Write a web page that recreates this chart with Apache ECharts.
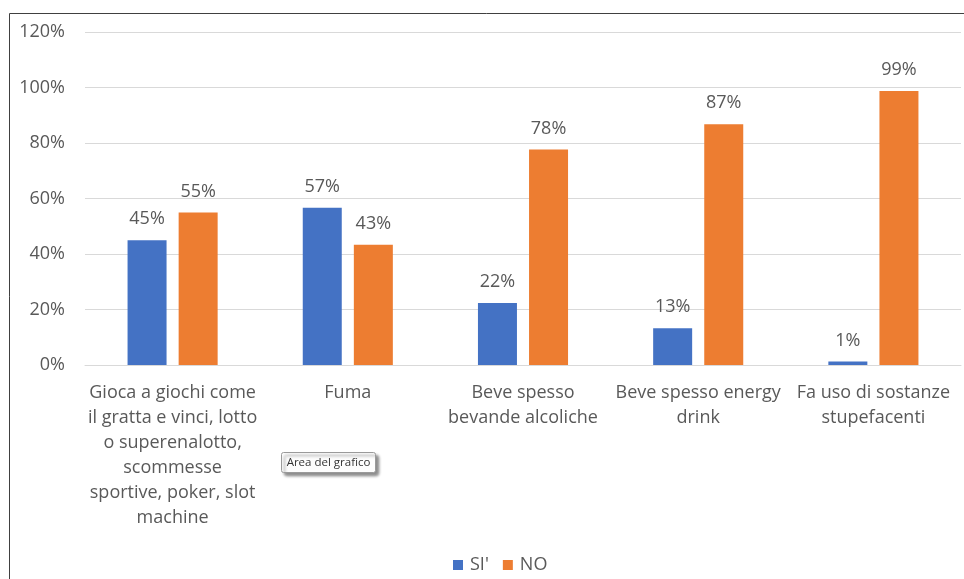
<!DOCTYPE html>
<html><head><meta charset="utf-8">
<script src="https://cdn.jsdelivr.net/npm/echarts@6/dist/echarts.min.js"></script>
<style>html,body{margin:0;padding:0;background:#fff}#c{width:964px;height:579px}</style>
</head><body><div id="c"></div>
<script>
const categories = [
  "Gioca a giochi come\nil gratta e vinci, lotto\no superenalotto,\nscommesse\nsportive, poker, slot\nmachine",
  "Fuma",
  "Beve spesso\nbevande alcoliche",
  "Beve spesso energy\ndrink",
  "Fa uso di sostanze\nstupefacenti"
];
const siValues = [45, 56.7, 22.3, 13.2, 1.3];
const noValues = [55, 43.3, 77.7, 86.8, 98.7];
const yTicks = [0, 20, 40, 60, 80, 100, 120];

const font = "'Open Sans', 'Noto Sans', sans-serif";
const chart = echarts.init(document.getElementById('c'), null, {renderer: 'canvas'});
const lbl = {show: true, position: 'top', distance: 12, color: '#595959', fontSize: 18, fontFamily: font,
  formatter: p => Math.round(p.value) + '%'};
chart.setOption({
  animation: false,
  grid: {left: 85, right: 3, top: 32, bottom: 214},
  legend: {
    bottom: 0, left: 448, itemWidth: 10, itemHeight: 10, itemGap: 14, icon: 'rect',
    textStyle: {color: '#595959', fontSize: 18, fontFamily: font, padding: [0, 0, 0, 2]}
  },
  xAxis: {
    type: 'category', data: categories,
    axisLine: {lineStyle: {color: '#d9d9d9'}}, axisTick: {show: false},
    axisLabel: {color: '#595959', fontSize: 18, fontFamily: font, lineHeight: 25, margin: 15, interval: 0}
  },
  yAxis: {
    type: 'value', min: 0, max: 120, interval: 20,
    axisLine: {show: false}, axisTick: {show: false},
    splitLine: {lineStyle: {color: '#d9d9d9'}},
    axisLabel: {color: '#595959', fontSize: 18, fontFamily: font, margin: 20,
      formatter: v => yTicks.includes(v) ? v + '%' : ''}
  },
  series: [
    {name: "SI'", type: 'bar', data: siValues, barWidth: 39, barGap: '31%', itemStyle: {color: '#4472c4'}, label: lbl},
    {name: 'NO', type: 'bar', data: noValues, barWidth: 39, itemStyle: {color: '#ed7d31'}, label: lbl}
  ],
  graphic: [
    {type: 'polyline', shape: {points: [[9.5, 579], [9.5, 13.5], [964, 13.5]]}, style: {stroke: '#404040', lineWidth: 1, fill: null}},
    {type: 'group', left: 281, top: 452, children: [
      {type: 'rect', shape: {x: 0, y: 0, width: 94, height: 20, r: 2},
        style: {fill: '#fdfdfd', stroke: '#9a9a9a', lineWidth: 1, shadowBlur: 3, shadowOffsetX: 3, shadowOffsetY: 3, shadowColor: 'rgba(0,0,0,0.45)'}},
      {type: 'text', x: 47, y: 10, style: {text: 'Area del grafico', fill: '#333', fontSize: 11.5, fontFamily: font, align: 'center', verticalAlign: 'middle'}}
    ]}
  ]
});
</script></body></html>
